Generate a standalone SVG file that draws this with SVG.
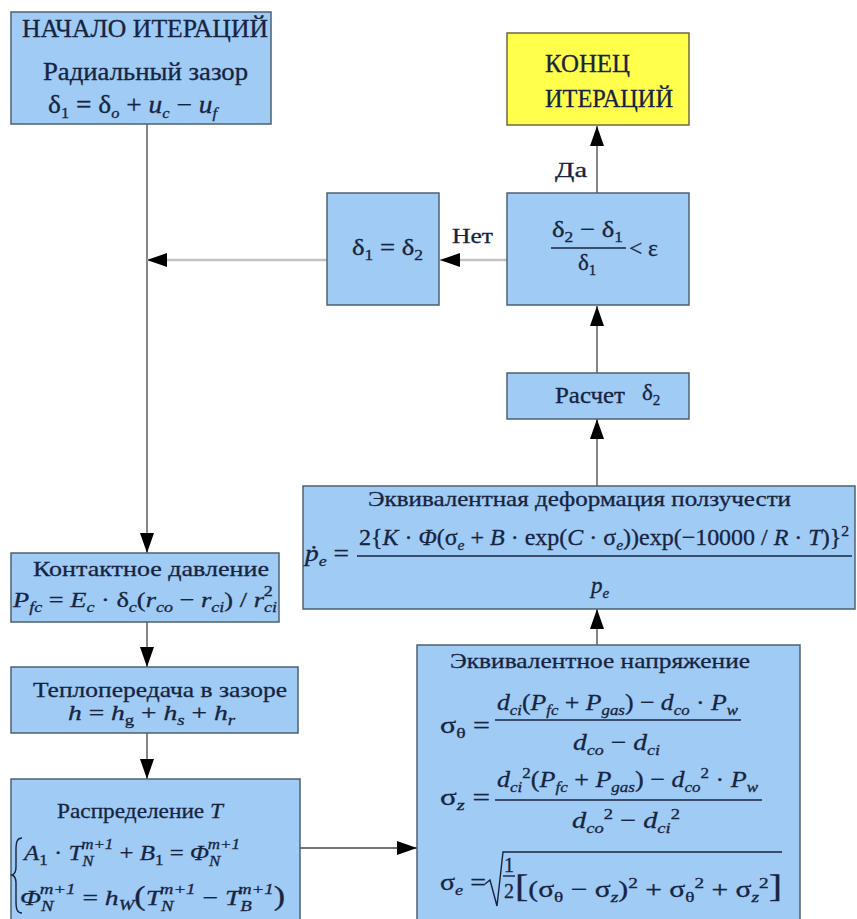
<svg xmlns="http://www.w3.org/2000/svg" width="857" height="919" viewBox="0 0 857 919">
<style>
text{font-family:"Liberation Serif","Times New Roman",serif;fill:#17243f;stroke:#17243f;stroke-width:0.3;font-size:23px}
.b{fill:#9fcbf4;stroke:#4f6170;stroke-width:1.5}
.y{fill:#ffff4c;stroke:#6b6a44;stroke-width:1.5}
.i{font-style:italic}
.s{font-size:15px}
.c{fill:none;stroke:#444;stroke-width:1.3}
.g{fill:none;stroke:#c2c2c2;stroke-width:2.5}
.m{fill:none;stroke:#17243f;stroke-width:1.4}
</style>
<defs>
<marker id="a" markerWidth="21" markerHeight="14" refX="20" refY="7" orient="auto" markerUnits="userSpaceOnUse"><path d="M0,0 L20,7 L0,14 Z" fill="#000"/></marker>
</defs>
<rect width="857" height="919" fill="#fff"/>

<g id="connectors">
<path class="c" d="M147,124 V553" marker-end="url(#a)"/>
<path class="g" d="M327,260 H147" marker-end="url(#a)"/>
<path class="g" d="M507,260 H440" marker-end="url(#a)"/>
<path class="c" d="M597,193 V126" marker-end="url(#a)"/>
<path class="c" d="M597,373 V306" marker-end="url(#a)"/>
<path class="c" d="M597,486 V419" marker-end="url(#a)"/>
<path class="c" d="M597,645 V609" marker-end="url(#a)"/>
<path class="c" d="M147,622 V667" marker-end="url(#a)"/>
<path class="c" d="M147,733 V779" marker-end="url(#a)"/>
<path class="c" d="M300,848 H417" marker-end="url(#a)"/>
<text x="555" y="177" textLength="32" lengthAdjust="spacingAndGlyphs" style="font-size:22px">Да</text>
<text x="452" y="243" textLength="41" lengthAdjust="spacingAndGlyphs" style="font-size:22px">Нет</text>
</g>

<g id="start">
<rect class="b" x="11" y="12" width="260" height="112"/>
<text x="22" y="37" textLength="246" lengthAdjust="spacingAndGlyphs" style="font-size:25px">НАЧАЛО ИТЕРАЦИЙ</text>
<text x="43" y="80" textLength="205" lengthAdjust="spacingAndGlyphs" style="font-size:25px">Радиальный зазор</text>
<text x="48" y="113" textLength="169" lengthAdjust="spacingAndGlyphs" style="font-size:25px">δ<tspan class="s" dy="5">1</tspan><tspan dy="-5"> = δ</tspan><tspan class="s i" dy="5">o</tspan><tspan dy="-5"> + </tspan><tspan class="i">u</tspan><tspan class="s i" dy="5">c</tspan><tspan dy="-5"> − </tspan><tspan class="i">u</tspan><tspan class="s i" dy="5">f</tspan></text>
</g>

<g id="end">
<rect class="y" x="507" y="33" width="182" height="92"/>
<text x="545" y="72" textLength="85" lengthAdjust="spacingAndGlyphs" style="font-size:25px">КОНЕЦ</text>
<text x="545" y="107" textLength="128" lengthAdjust="spacingAndGlyphs" style="font-size:25px">ИТЕРАЦИЙ</text>
</g>

<g id="criterion">
<rect class="b" x="507" y="193" width="182" height="112"/>
<text x="552" y="237" textLength="71" lengthAdjust="spacingAndGlyphs">δ<tspan class="s" dy="5">2</tspan><tspan dy="-5"> − δ</tspan><tspan class="s" dy="5">1</tspan></text>
<line class="m" x1="551" y1="248" x2="626" y2="248"/>
<text x="578" y="270">δ<tspan class="s" dy="5">1</tspan></text>
<text x="629" y="256" textLength="29" lengthAdjust="spacingAndGlyphs">&lt; ε</text>
</g>

<g id="assign">
<rect class="b" x="327" y="193" width="112" height="112"/>
<text x="352" y="255" textLength="71" lengthAdjust="spacingAndGlyphs">δ<tspan class="s" dy="5">1</tspan><tspan dy="-5"> = δ</tspan><tspan class="s" dy="5">2</tspan></text>
</g>

<g id="calc">
<rect class="b" x="507" y="373" width="182" height="46"/>
<text x="555" y="403" textLength="70" lengthAdjust="spacingAndGlyphs">Расчет</text>
<text x="642" y="400">δ<tspan class="s" dy="5">2</tspan></text>
</g>

<g id="creep">
<rect class="b" x="303" y="486" width="552" height="123"/>
<text x="368" y="506" textLength="423" lengthAdjust="spacingAndGlyphs" style="font-size:22px">Эквивалентная деформация ползучести</text>
<text x="305" y="561" textLength="44" lengthAdjust="spacingAndGlyphs"><tspan class="i">ṗ</tspan><tspan class="s i" dy="5">e</tspan><tspan dy="-5"> =</tspan></text>
<text x="359" y="545" textLength="490" lengthAdjust="spacingAndGlyphs">2{<tspan class="i">K</tspan> · <tspan class="i">Φ</tspan>(σ<tspan class="s i" dy="5">e</tspan><tspan dy="-5"> + </tspan><tspan class="i">B</tspan> · exp(<tspan class="i">C</tspan> · σ<tspan class="s i" dy="5">e</tspan><tspan dy="-5">))exp(−10000 / </tspan><tspan class="i">R</tspan> · <tspan class="i">T</tspan>)}<tspan class="s" dy="-9">2</tspan></text>
<line class="m" x1="357" y1="556" x2="852" y2="556"/>
<text x="591" y="593"><tspan class="i">p</tspan><tspan class="s i" dy="5">e</tspan></text>
</g>

<g id="contact">
<rect class="b" x="11" y="553" width="268" height="69"/>
<text x="33" y="576" textLength="236" lengthAdjust="spacingAndGlyphs" style="font-size:22px">Контактное давление</text>
<text x="13" y="607" textLength="264" lengthAdjust="spacingAndGlyphs" style="font-size:22px"><tspan class="i">P</tspan><tspan class="s i" dy="5">fc</tspan><tspan dy="-5"> = </tspan><tspan class="i">E</tspan><tspan class="s i" dy="5">c</tspan><tspan dy="-5"> · δ</tspan><tspan class="s i" dy="5">c</tspan><tspan dy="-5">(</tspan><tspan class="i">r</tspan><tspan class="s i" dy="5">co</tspan><tspan dy="-5"> − </tspan><tspan class="i">r</tspan><tspan class="s i" dy="5">ci</tspan><tspan dy="-5">) / </tspan><tspan class="i">r</tspan><tspan class="s i" dy="5">ci</tspan><tspan class="s" dx="-11" dy="-16">2</tspan></text>
</g>

<g id="heat">
<rect class="b" x="11" y="667" width="287" height="66"/>
<text x="33" y="697" textLength="254" lengthAdjust="spacingAndGlyphs" style="font-size:22px">Теплопередача в зазоре</text>
<text x="68" y="720" textLength="167" lengthAdjust="spacingAndGlyphs" style="font-size:22px"><tspan class="i">h</tspan> = <tspan class="i">h</tspan><tspan class="s" dy="5">g</tspan><tspan dy="-5"> + </tspan><tspan class="i">h</tspan><tspan class="s i" dy="5">s</tspan><tspan dy="-5"> + </tspan><tspan class="i">h</tspan><tspan class="s i" dy="5">r</tspan></text>
</g>

<g id="temperature">
<rect class="b" x="11" y="779" width="289" height="150"/>
<text x="57" y="818" textLength="166" lengthAdjust="spacingAndGlyphs" style="font-size:22px">Распределение <tspan class="i">T</tspan></text>
<path class="m" d="M22,838 C17,838 16,842 16,850 L16,867 C16,872 15,874 12,875 C15,876 16,878 16,883 L16,901 C16,909 17,913 22,913"/>
<text x="24" y="860" textLength="216" lengthAdjust="spacingAndGlyphs" style="font-size:22px"><tspan class="i">A</tspan><tspan class="s" dy="5">1</tspan><tspan dy="-5"> · </tspan><tspan class="i">T</tspan><tspan class="s i" dy="6">N</tspan><tspan class="s i" dx="-11" dy="-17">m+1</tspan><tspan dy="11"> + </tspan><tspan class="i">B</tspan><tspan class="s" dy="5">1</tspan><tspan dy="-5"> = </tspan><tspan class="i">Φ</tspan><tspan class="s i" dy="6">N</tspan><tspan class="s i" dx="-11" dy="-17">m+1</tspan></text>
<text x="20" y="905" textLength="265" lengthAdjust="spacingAndGlyphs" style="font-size:22px"><tspan class="i">Φ</tspan><tspan class="s i" dy="6">N</tspan><tspan class="s i" dx="-11" dy="-17">m+1</tspan><tspan dy="11"> = </tspan><tspan class="i">h</tspan><tspan class="s i" dy="5">W</tspan><tspan dy="-5" style="font-size:27px">(</tspan><tspan class="i">T</tspan><tspan class="s i" dy="6">N</tspan><tspan class="s i" dx="-11" dy="-17">m+1</tspan><tspan dy="11"> − </tspan><tspan class="i">T</tspan><tspan class="s i" dy="6">B</tspan><tspan class="s i" dx="-11" dy="-17">m+1</tspan><tspan dy="11" style="font-size:27px">)</tspan></text>
</g>

<g id="stress">
<rect class="b" x="417" y="645" width="383" height="290"/>
<text x="450" y="668" textLength="300" lengthAdjust="spacingAndGlyphs" style="font-size:22px">Эквивалентное напряжение</text>
<text x="440" y="733" textLength="50" lengthAdjust="spacingAndGlyphs">σ<tspan class="s" dy="5">θ</tspan><tspan dy="-5"> =</tspan></text>
<text x="497" y="710" textLength="241" lengthAdjust="spacingAndGlyphs"><tspan class="i">d</tspan><tspan class="s i" dy="5">ci</tspan><tspan dy="-5">(</tspan><tspan class="i">P</tspan><tspan class="s i" dy="5">fc</tspan><tspan dy="-5"> + </tspan><tspan class="i">P</tspan><tspan class="s i" dy="5">gas</tspan><tspan dy="-5">) − </tspan><tspan class="i">d</tspan><tspan class="s i" dy="5">co</tspan><tspan dy="-5"> · </tspan><tspan class="i">P</tspan><tspan class="s i" dy="5">w</tspan></text>
<line class="m" x1="495" y1="720" x2="741" y2="720"/>
<text x="573" y="750" textLength="87" lengthAdjust="spacingAndGlyphs"><tspan class="i">d</tspan><tspan class="s i" dy="5">co</tspan><tspan dy="-5"> − </tspan><tspan class="i">d</tspan><tspan class="s i" dy="5">ci</tspan></text>
<text x="440" y="805" textLength="50" lengthAdjust="spacingAndGlyphs">σ<tspan class="s i" dy="5">z</tspan><tspan dy="-5"> =</tspan></text>
<text x="497" y="787" textLength="261" lengthAdjust="spacingAndGlyphs"><tspan class="i">d</tspan><tspan class="s i" dy="5">ci</tspan><tspan class="s" dy="-14">2</tspan><tspan dy="9">(</tspan><tspan class="i">P</tspan><tspan class="s i" dy="5">fc</tspan><tspan dy="-5"> + </tspan><tspan class="i">P</tspan><tspan class="s i" dy="5">gas</tspan><tspan dy="-5">) − </tspan><tspan class="i">d</tspan><tspan class="s i" dy="5">co</tspan><tspan class="s" dy="-14">2</tspan><tspan dy="9"> · </tspan><tspan class="i">P</tspan><tspan class="s i" dy="5">w</tspan></text>
<line class="m" x1="495" y1="800" x2="762" y2="800"/>
<text x="572" y="828" textLength="108" lengthAdjust="spacingAndGlyphs"><tspan class="i">d</tspan><tspan class="s i" dy="5">co</tspan><tspan class="s" dy="-14">2</tspan><tspan dy="9"> − </tspan><tspan class="i">d</tspan><tspan class="s i" dy="5">ci</tspan><tspan class="s" dy="-14">2</tspan></text>
<text x="440" y="890" textLength="46" lengthAdjust="spacingAndGlyphs">σ<tspan class="s i" dy="5">e</tspan><tspan dy="-5"> =</tspan></text>
<path class="m" d="M485,884 L490,880 L497,906 L503,852 H782"/>
<text x="504" y="872" style="font-size:20px">1</text>
<line class="m" x1="503" y1="876" x2="515" y2="876"/>
<text x="504" y="898" style="font-size:20px">2</text>
<text x="515" y="897" textLength="267" lengthAdjust="spacingAndGlyphs"><tspan style="font-size:31px">[</tspan>(σ<tspan class="s" dy="5">θ</tspan><tspan dy="-5"> − σ</tspan><tspan class="s i" dy="5">z</tspan><tspan dy="-5">)</tspan><tspan class="s" dy="-9">2</tspan><tspan dy="9"> + σ</tspan><tspan class="s" dy="5">θ</tspan><tspan class="s" dy="-14">2</tspan><tspan dy="9"> + σ</tspan><tspan class="s i" dy="5">z</tspan><tspan class="s" dy="-14">2</tspan><tspan dy="9" style="font-size:31px">]</tspan></text>
</g>
</svg>
